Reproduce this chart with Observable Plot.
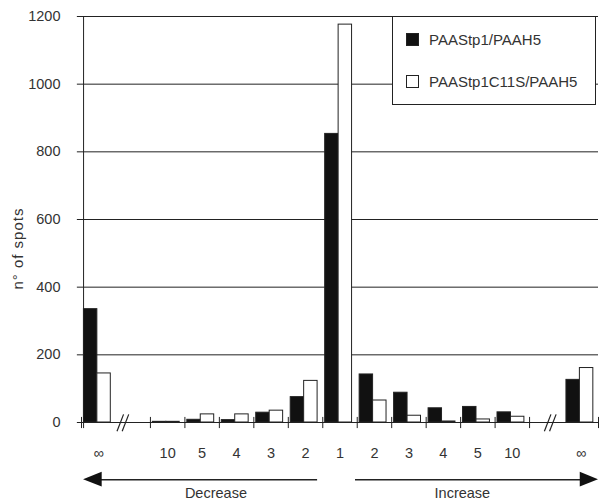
<!DOCTYPE html>
<html>
<head>
<meta charset="utf-8">
<script src="https://cdn.jsdelivr.net/npm/d3@7"></script>
<script src="https://cdn.jsdelivr.net/npm/@observablehq/plot@0.6"></script>
<style>
  html, body { margin: 0; padding: 0; background: white; }
  #wrap { position: relative; width: 600px; height: 501px; font-family: "Liberation Sans", Arial, sans-serif; color: #222; }
  #legend { position: absolute; left: 392px; top: 16px; width: 204px; height: 89px; border: 1px solid #222; background: white; box-sizing: border-box; }
  .item { position: absolute; left: 13px; display: flex; align-items: center; font-size: 15px; color: #333; }
  .sw { width: 13px; height: 13px; box-sizing: border-box; border: 1px solid #222; margin-right: 10px; }
  .ytitle { letter-spacing: 1px; }
</style>
</head>
<body>
<div id="wrap">
  <div id="chart"></div>
  <div id="legend"></div>
</div>
<script>
// ---- data ----
const slotLabels = ["∞", "", "10", "5", "4", "3", "2", "1", "2", "3", "4", "5", "10", "", "∞"];
const blackValues = [335, null, 2, 8, 7, 29, 75, 853, 142, 88, 42, 46, 30, null, 126];
const whiteValues = [145, null, 2, 24, 24, 35, 123, 1176, 65, 20, 3, 9, 17, null, 161];
const seriesNames = ["PAAStp1/PAAH5", "PAAStp1C11S/PAAH5"];
const seriesFills = ["#111", "white"];
const yTicks = [0, 200, 400, 600, 800, 1000, 1200];
const tickSlots = [0, 2, 3, 4, 5, 6, 7, 8, 9, 10, 11, 12, 13, 15];
const breakSlots = [1.2, 13.6];
const directionWords = ["Decrease", "Increase"];
const yTitle = "n° of spots";

// ---- derived tables ----
const seriesValues = [blackValues, whiteValues];
const bars = [];
seriesValues.forEach((vals, s) => {
  vals.forEach((v, i) => {
    if (v == null) return;
    const x1 = i + 0.07 + s * 0.39;
    bars.push({x1, x2: x1 + 0.39, value: v, fill: seriesFills[s]});
  });
});
const slots = slotLabels.map((label, i) => ({x: i + 0.5, label}));
const slashes = breakSlots.flatMap(b => [
  {x1: b - 0.17, x2: b + 0.02, y1: -26, y2: 24},
  {x1: b - 0.02, x2: b + 0.17, y1: -26, y2: 24}
]);
const arrowY = -169;
const headH = 22;
const shafts = [{x1: 0.3, x2: 6.85}, {x1: 7.95, x2: 14.6}];
const heads = [
  {id: "L", x: 0.06, y1: arrowY, y2: arrowY},
  {id: "L", x: 0.6, y1: arrowY - headH, y2: arrowY + headH},
  {id: "R", x: 14.47, y1: arrowY - headH, y2: arrowY + headH},
  {id: "R", x: 15.0, y1: arrowY, y2: arrowY}
];
const words = [{x: 3.9, text: directionWords[0]}, {x: 11.05, text: directionWords[1]}];

const chart = Plot.plot({
  width: 600,
  height: 501,
  marginLeft: 81,
  marginRight: 2,
  marginTop: 16,
  marginBottom: 79,
  x: {domain: [0, 15], axis: null},
  y: {domain: [0, 1200], axis: null},
  style: {fontFamily: "Liberation Sans, Arial, sans-serif", fontSize: "14.5px", color: "#333", background: "white"},
  marks: [
    Plot.ruleY(yTicks, {y: d => d, x1: -0.12, x2: 15, stroke: "#222", strokeWidth: 1}),
    Plot.ruleX([0.06], {x: d => d, y1: -18, y2: 1200, stroke: "#222", strokeWidth: 1}),
    Plot.ruleX(tickSlots, {x: d => d, y1: -18, y2: 15, stroke: "#222", strokeWidth: 1}),
    Plot.link(slashes, {x1: "x1", y1: "y1", x2: "x2", y2: "y2", stroke: "#222", strokeWidth: 1.2}),
    Plot.rect(bars, {x1: "x1", x2: "x2", y1: 0, y2: "value", fill: "fill", stroke: "#222", strokeWidth: 1}),
    Plot.text(yTicks, {x: 0, y: d => d, text: d => String(d), textAnchor: "end", dx: -21, fontSize: 14.5, fill: "#333"}),
    Plot.text(slots, {x: "x", y: -90, text: "label", fontSize: 14.5, fill: "#333"}),
    Plot.ruleY(shafts, {y: arrowY, x1: "x1", x2: "x2", stroke: "#222", strokeWidth: 1.5}),
    Plot.areaY(heads, {x: "x", y1: "y1", y2: "y2", z: "id", fill: "#111"}),
    Plot.text(words, {x: "x", y: -208, text: "text", fontSize: 14.5, fill: "#333"}),
    Plot.text([yTitle], {x: -1.83, y: 514, text: d => d, rotate: -90, fontSize: 15, fill: "#333", className: "ytitle"})
  ]
});
document.getElementById("chart").appendChild(chart);
d3.select(chart).selectAll("text").filter(function() { return this.textContent === yTitle; }).style("letter-spacing", "1px");

// legend
const legend = document.getElementById("legend");
seriesNames.forEach((name, s) => {
  const item = document.createElement("div");
  item.className = "item";
  item.style.top = (s === 0 ? 14 : 56) + "px";
  const sw = document.createElement("div");
  sw.className = "sw";
  sw.style.background = seriesFills[s];
  const t = document.createElement("span");
  t.textContent = name;
  item.appendChild(sw);
  item.appendChild(t);
  legend.appendChild(item);
});
</script>
</body>
</html>
